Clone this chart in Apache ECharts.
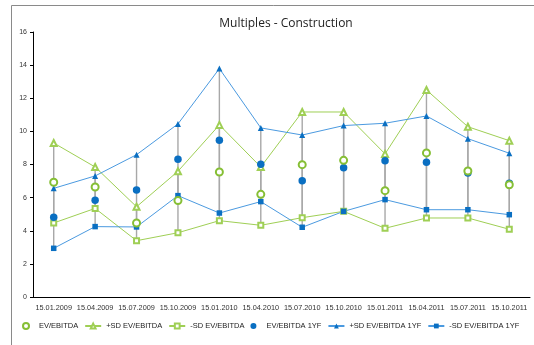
<!DOCTYPE html>
<html>
<head>
<meta charset="utf-8">
<script src="https://cdn.jsdelivr.net/npm/echarts@6/dist/echarts.min.js"></script>
<style>
  html, body { margin: 0; padding: 0; background: #fff; }
  #chart { width: 534px; height: 345px; }
</style>
</head>
<body>
<div id="chart"></div>
<script>
// Quarterly valuation multiples, construction sector
const categories = ['15.01.2009', '15.04.2009', '15.07.2009', '15.10.2009', '15.01.2010', '15.04.2010',
                    '15.07.2010', '15.10.2010', '15.01.2011', '15.04.2011', '15.07.2011', '15.10.2011'];

const evEbitda        = [6.93, 6.64, 4.47, 5.82, 7.55, 6.20, 7.99, 8.25, 6.42, 8.70, 7.61, 6.78];
const sdPlusEvEbitda  = [9.30, 7.85, 5.45, 7.59, 10.39, 7.85, 11.17, 11.17, 8.64, 12.50, 10.28, 9.44];
const sdMinusEvEbitda = [4.47, 5.35, 3.40, 3.88, 4.61, 4.33, 4.79, 5.17, 4.15, 4.77, 4.77, 4.09];

const evEbitda1yf        = [4.81, 5.84, 6.46, 8.31, 9.46, 8.01, 7.02, 7.81, 8.23, 8.13, 7.49, 6.87];
const sdPlusEvEbitda1yf  = [6.56, 7.31, 8.59, 10.45, 13.79, 10.21, 9.78, 10.35, 10.49, 10.93, 9.56, 8.68];
const sdMinusEvEbitda1yf = [2.94, 4.25, 4.23, 6.12, 5.07, 5.76, 4.21, 5.17, 5.88, 5.27, 5.27, 4.97];

const yTicks = { min: 0, max: 16, interval: 2 };

const GREEN = '#86bf35';
const GREEN_LIGHT = '#9fcf55';
const BLUE = '#0a6fc2';
const BLUE_LINE = '#4b9ae0';

// high-low range of one group of series, per category
function highLow(groups) {
  return categories.map((_, i) => {
    const vals = groups.map(g => g[i]);
    return [i, Math.min.apply(null, vals), Math.max.apply(null, vals)];
  });
}

function rangeSeries(data) {
  return {
    type: 'custom',
    silent: true,
    z: 1,
    renderItem: function (params, api) {
      const a = api.coord([api.value(0), api.value(1)]);
      const b = api.coord([api.value(0), api.value(2)]);
      return {
        type: 'line',
        shape: { x1: a[0], y1: a[1], x2: b[0], y2: b[1] },
        style: { stroke: '#a8a8a8', lineWidth: 1.4 }
      };
    },
    data: data
  };
}

const chart = echarts.init(document.getElementById('chart'), null, { renderer: 'canvas' });

const textFont = 'Liberation Sans, sans-serif';
const titleFont = 'Open Sans, Liberation Sans, sans-serif';

chart.setOption({
  animation: false,
  backgroundColor: '#fff',
  textStyle: { fontFamily: textFont },
  graphic: [{
    type: 'rect',
    shape: { x: 11.5, y: 5.5, width: 600, height: 400 },
    style: { fill: 'none', stroke: '#8a8a8a', lineWidth: 1 },
    silent: true,
    z: -10
  }],
  title: {
    text: 'Multiples - Construction',
    left: 281,
    textAlign: 'center',
    top: 13,
    textStyle: { fontSize: 12, fontWeight: 'normal', color: '#222', fontFamily: titleFont }
  },
  grid: { left: 33, right: 4, top: 32, bottom: 48 },
  legend: {
    top: 322,
    left: 22,
    width: 512,
    padding: 0,
    itemWidth: 16,
    itemHeight: 6,
    itemGap: 6,
    textStyle: { fontSize: 7.5, color: '#222', fontFamily: textFont },
    data: ['EV/EBITDA', '+SD EV/EBITDA', '-SD EV/EBITDA', 'EV/EBITDA 1YF', '+SD EV/EBITDA 1YF', '-SD EV/EBITDA 1YF']
  },
  xAxis: {
    type: 'category',
    data: categories,
    boundaryGap: true,
    axisLine: { lineStyle: { color: '#000', width: 1 } },
    axisTick: { alignWithLabel: true, length: 3, lineStyle: { color: '#000' } },
    axisLabel: { fontSize: 7.3, color: '#333', margin: 7, interval: 0, fontFamily: textFont },
    splitLine: { show: false }
  },
  yAxis: {
    type: 'value',
    min: yTicks.min,
    max: yTicks.max,
    interval: yTicks.interval,
    axisLine: { show: true, lineStyle: { color: '#000', width: 1 } },
    axisTick: { show: true, length: 3, lineStyle: { color: '#000' } },
    axisLabel: { fontSize: 7, color: '#333', margin: 6, fontFamily: textFont },
    splitLine: { show: false }
  },
  series: [
    rangeSeries(highLow([evEbitda, sdPlusEvEbitda, sdMinusEvEbitda])),
    rangeSeries(highLow([evEbitda1yf, sdPlusEvEbitda1yf, sdMinusEvEbitda1yf])),
    {
      name: '+SD EV/EBITDA', type: 'line', data: sdPlusEvEbitda, z: 3,
      symbol: 'emptyTriangle', symbolSize: 6,
      lineStyle: { color: GREEN_LIGHT, width: 1 },
      itemStyle: { color: GREEN_LIGHT, borderColor: GREEN_LIGHT, borderWidth: 1 }
    },
    {
      name: '-SD EV/EBITDA', type: 'line', data: sdMinusEvEbitda, z: 3,
      symbol: 'emptyRect', symbolSize: 5,
      lineStyle: { color: GREEN_LIGHT, width: 1 },
      itemStyle: { color: GREEN_LIGHT, borderColor: GREEN_LIGHT, borderWidth: 1 }
    },
    {
      name: '+SD EV/EBITDA 1YF', type: 'line', data: sdPlusEvEbitda1yf, z: 3,
      symbol: 'triangle', symbolSize: 6,
      lineStyle: { color: BLUE_LINE, width: 1 },
      itemStyle: { color: BLUE }
    },
    {
      name: '-SD EV/EBITDA 1YF', type: 'line', data: sdMinusEvEbitda1yf, z: 3,
      symbol: 'rect', symbolSize: 5.5,
      lineStyle: { color: BLUE_LINE, width: 1 },
      itemStyle: { color: BLUE }
    },
    {
      name: 'EV/EBITDA 1YF', type: 'scatter', data: evEbitda1yf, z: 4,
      symbol: 'circle', symbolSize: 7.5,
      itemStyle: { color: BLUE, opacity: 1 }
    },
    {
      name: 'EV/EBITDA', type: 'scatter', data: evEbitda, z: 5,
      symbol: 'emptyCircle', symbolSize: 7,
      itemStyle: { color: GREEN, borderColor: GREEN, borderWidth: 1.5, opacity: 1 }
    }
  ]
});
</script>
</body>
</html>
